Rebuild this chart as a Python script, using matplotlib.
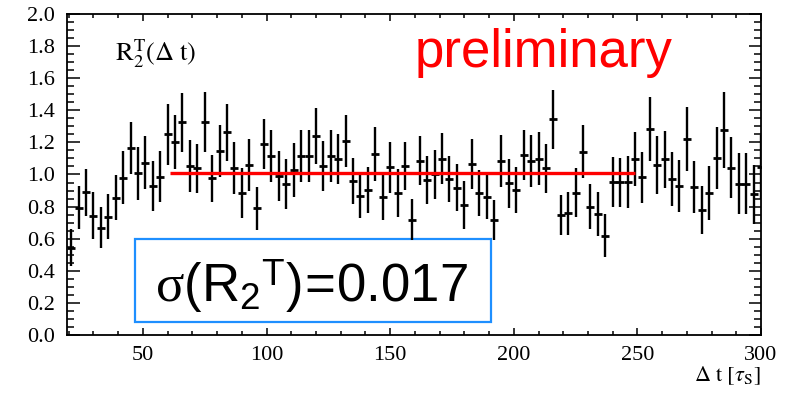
import numpy as np
import matplotlib
matplotlib.use("Agg")
import matplotlib.pyplot as plt
from matplotlib.patches import Rectangle
from matplotlib.ticker import MultipleLocator

plt.rcParams['mathtext.fontset'] = 'custom'
plt.rcParams['mathtext.rm'] = 'Liberation Sans'
plt.rcParams['mathtext.it'] = 'Liberation Serif'

# bin centres (3 tau_S wide) and measured R2^T with errors
dt = np.arange(21, 301, 3)
r2 = [0.544, 0.793, 0.889, 0.743, 0.669, 0.737, 0.856, 0.980, 1.163, 1.007,
      1.074, 0.928, 0.986, 1.250, 1.204, 1.325, 1.053, 1.038, 1.325, 0.976,
      1.146, 1.263, 1.038, 0.887, 1.059, 0.789, 1.190, 1.117, 0.993, 0.941,
      1.028, 1.115, 1.115, 1.240, 1.053, 1.117, 1.097, 1.209, 0.960, 0.866,
      0.903, 1.126, 0.858, 1.045, 0.883, 1.053, 0.717, 1.086, 0.966, 1.001,
      1.099, 0.972, 0.918, 0.810, 1.065, 0.883, 0.858, 0.717, 1.084, 0.945,
      0.903, 1.121, 1.086, 1.099, 1.038, 1.344, 0.748, 0.758, 0.887, 1.142,
      0.800, 0.754, 0.619, 0.951, 0.951, 0.955, 1.095, 0.982, 1.283, 1.059,
      1.095, 0.972, 0.930, 1.221, 0.922, 0.779, 0.887, 1.101, 1.277, 1.043,
      0.941, 0.941, 0.876, 1.045]
r2_err = [0.114, 0.135, 0.145, 0.145, 0.129, 0.140, 0.141, 0.166, 0.161, 0.166,
          0.166, 0.158, 0.158, 0.189, 0.169, 0.184, 0.163, 0.155, 0.187, 0.147,
          0.164, 0.179, 0.162, 0.156, 0.160, 0.135, 0.158, 0.161, 0.156, 0.154,
          0.171, 0.161, 0.161, 0.173, 0.158, 0.161, 0.156, 0.164, 0.141, 0.137,
          0.143, 0.169, 0.143, 0.159, 0.150, 0.147, 0.128, 0.154, 0.151, 0.151,
          0.157, 0.145, 0.147, 0.150, 0.158, 0.144, 0.137, 0.125, 0.161, 0.152,
          0.145, 0.156, 0.163, 0.164, 0.154, 0.185, 0.127, 0.133, 0.154, 0.164,
          0.142, 0.138, 0.132, 0.156, 0.152, 0.161, 0.169, 0.161, 0.200, 0.180,
          0.177, 0.167, 0.162, 0.200, 0.161, 0.151, 0.169, 0.192, 0.239, 0.189,
          0.190, 0.190, 0.182, 0.200]

fit_range = (61, 249)
fit_value = 1.008
sigma_text = r'$\sigma(\mathrm{R}_2{}^\mathrm{T})\!=\!0.017$'

fig = plt.figure(figsize=(7.92, 3.93), dpi=100)
ax = fig.add_axes([0.0846, 0.1476, 0.8763, 0.8168])

ax.add_patch(Rectangle((46.8, 0.079), 190.7 - 46.8, 0.596 - 0.079,
                       facecolor='white', edgecolor='#1e8fff', lw=1.6, zorder=1))

ax.errorbar(dt, r2, yerr=r2_err, fmt='_', color='black', ms=6, mew=2.0,
            elinewidth=1.7, capsize=0, zorder=3)
ax.hlines(fit_value, fit_range[0], fit_range[1], color='red', lw=2.4, zorder=4)

ax.set_xlim(19.3, 300)
ax.set_ylim(0, 2.0)
ax.xaxis.set_major_locator(MultipleLocator(50))
ax.xaxis.set_minor_locator(MultipleLocator(10))
ax.yaxis.set_major_locator(MultipleLocator(0.2))
ax.yaxis.set_minor_locator(MultipleLocator(0.05))
ax.yaxis.set_major_formatter(matplotlib.ticker.FormatStrFormatter('%.1f'))
ax.tick_params(which='both', direction='in', top=True, right=True, width=1.1)
ax.tick_params(axis='x', which='major', length=5, pad=8)
ax.tick_params(axis='x', which='minor', length=3)
ax.tick_params(axis='y', which='major', length=9, pad=9)
ax.tick_params(axis='y', which='minor', length=5)
for lab in ax.get_xticklabels() + ax.get_yticklabels():
    lab.set_family('Liberation Serif')
    lab.set_fontsize(16)
for s in ax.spines.values():
    s.set_linewidth(1.3)

ax.text(38.7, 1.71, r'$\mathrm{R}_2^\mathrm{T}(\Delta\ \mathrm{t})$', fontsize=19,
        math_fontfamily='stix', ha='left', va='baseline')
ax.text(160, 1.672, 'preliminary', color='red', fontsize=38,
        family='Liberation Sans', ha='left', va='baseline')
ax.text(54.9, 0.207, sigma_text, fontsize=38, ha='left', va='baseline', zorder=5)
ax.text(1.0, -0.145, r'$\Delta\ \mathrm{t}\ [\tau_\mathrm{S}]$', fontsize=16,
        math_fontfamily='stix', ha='right', va='baseline', transform=ax.transAxes)

fig.savefig('out.png', dpi=100)
